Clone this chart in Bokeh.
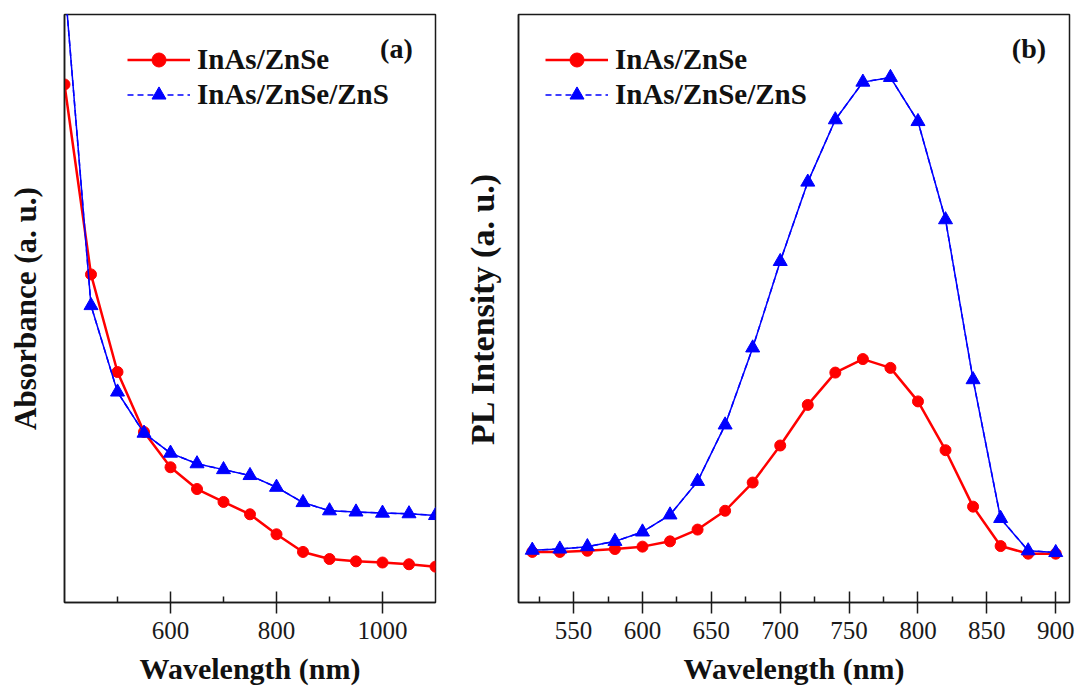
from bokeh.plotting import figure
from bokeh.layouts import row
from bokeh.models import Range1d, FixedTicker, Legend, LegendItem, Label
from bokeh.embed import file_html
from bokeh.resources import INLINE

# ---------------- data ----------------
abs_wl = [400, 450, 500, 550, 600, 650, 700, 750, 800, 850, 900, 950, 1000, 1050, 1100]
abs_inas_znse = [0.881, 0.558, 0.392, 0.290, 0.230, 0.193, 0.171, 0.150, 0.116, 0.086,
                 0.074, 0.070, 0.068, 0.065, 0.061]
abs_inas_znse_zns = [1.058, 0.505, 0.358, 0.288, 0.254, 0.236, 0.226, 0.216, 0.196, 0.170,
                     0.156, 0.154, 0.152, 0.151, 0.148]

pl_wl = [520, 540, 560, 580, 600, 620, 640, 660, 680, 700, 720, 740, 760, 780, 800,
         820, 840, 860, 880, 900]
pl_inas_znse = [0.086, 0.086, 0.088, 0.091, 0.095, 0.104, 0.124, 0.156, 0.204, 0.267,
                0.336, 0.391, 0.414, 0.399, 0.342, 0.259, 0.163, 0.096, 0.083, 0.083]
pl_inas_znse_zns = [0.089, 0.091, 0.095, 0.104, 0.120, 0.149, 0.206, 0.302, 0.433, 0.580,
                    0.715, 0.821, 0.885, 0.893, 0.818, 0.651, 0.379, 0.143, 0.088, 0.085]

abs_major = [600, 800, 1000]
abs_minor = [500, 700, 900]
pl_major = [550, 600, 650, 700, 750, 800, 850, 900]
pl_minor = [525, 575, 625, 675, 725, 775, 825, 875]

series_names = ["InAs/ZnSe", "InAs/ZnSe/ZnS"]

SERIF = "Liberation Serif"
RED = "#ff0000"
BLUE = "#0000ff"
INK = "#1a1a1a"


def make_panel(x, y1, y2, xr, major, minor, ylabel, ylabel_size, tag, tag_x, width, bl, br,
               leg_x, ystandoff):
    p = figure(width=width, height=688, output_backend="svg", toolbar_location=None,
               x_range=Range1d(*xr), y_range=Range1d(0, 1),
               min_border_left=bl, min_border_right=br, min_border_top=14,
               min_border_bottom=86)
    p.grid.visible = False
    p.outline_line_color = INK
    p.outline_line_width = 1.5
    p.background_fill_color = "white"
    p.border_fill_color = "white"

    xa = p.xaxis[0]
    xa.ticker = FixedTicker(ticks=major, minor_ticks=minor)
    xa.major_tick_in = 11
    xa.major_tick_out = 11
    xa.minor_tick_in = 6
    xa.minor_tick_out = 0
    xa.major_tick_line_width = 1.5
    xa.minor_tick_line_width = 1.5
    xa.major_tick_line_color = INK
    xa.minor_tick_line_color = INK
    xa.axis_line_color = INK
    xa.axis_line_width = 1.5
    xa.major_label_text_font = SERIF
    xa.major_label_text_font_size = "25px"
    xa.major_label_text_color = INK
    xa.major_label_standoff = 8
    xa.axis_label = "Wavelength (nm)"
    xa.axis_label_text_font = SERIF
    xa.axis_label_text_font_style = "bold"
    xa.axis_label_text_font_size = "30px"
    xa.axis_label_text_color = "#111111"
    xa.axis_label_standoff = 10

    ya = p.yaxis[0]
    ya.ticker = FixedTicker(ticks=[])
    ya.major_tick_out = 0
    ya.major_tick_in = 0
    ya.minor_tick_out = 0
    ya.minor_tick_in = 0
    ya.axis_line_color = INK
    ya.axis_line_width = 1.5
    ya.axis_label = ylabel
    ya.axis_label_text_font = SERIF
    ya.axis_label_text_font_style = "bold"
    ya.axis_label_text_font_size = ylabel_size
    ya.axis_label_text_color = "#111111"
    ya.axis_label_standoff = ystandoff

    # dashed connecting line (seen in legend), solid curve drawn above it
    d2 = p.line(x, y2, line_color=BLUE, line_width=1.5, line_dash="6 4")
    r1l = p.line(x, y1, line_color=RED, line_width=2.5)
    r1s = p.scatter(x, y1, marker="circle", size=11, fill_color=RED, line_color=RED)
    p.line(x, y2, line_color=BLUE, line_width=1.5)
    r2s = p.scatter(x, y2, marker="triangle", size=14, fill_color=BLUE, line_color=BLUE)

    leg = Legend(items=[LegendItem(label=series_names[0], renderers=[r1l, r1s]),
                        LegendItem(label=series_names[1], renderers=[d2, r2s])],
                 location=(leg_x, 490), glyph_width=63, glyph_height=35,
                 label_height=35, spacing=0, label_standoff=7, padding=0, margin=0,
                 border_line_color=None, background_fill_alpha=0,
                 label_text_font=SERIF, label_text_font_style="bold",
                 label_text_font_size="29px", label_text_color="#111111")
    p.add_layout(leg)

    p.add_layout(Label(x=tag_x, y=0.942, text=tag, text_align="right",
                       text_baseline="middle", text_font=SERIF, text_font_style="bold",
                       text_font_size="28px", text_color="#111111"))
    return p


p1 = make_panel(abs_wl, abs_inas_znse, abs_inas_znse_zns, (400, 1100), abs_major, abs_minor,
                "Absorbance (a. u.)", "31px", "(a)", 1057, 460, 64, 25, 63, 22)
p2 = make_panel(pl_wl, pl_inas_znse, pl_inas_znse_zns, (510, 910), pl_major, pl_minor,
                "PL Intensity (a. u.)", "34px", "(b)", 893, 615, 57, 6, 27, 18)

layout = row(p1, p2, spacing=0)
open("out.html", "w").write(file_html(layout, INLINE))
